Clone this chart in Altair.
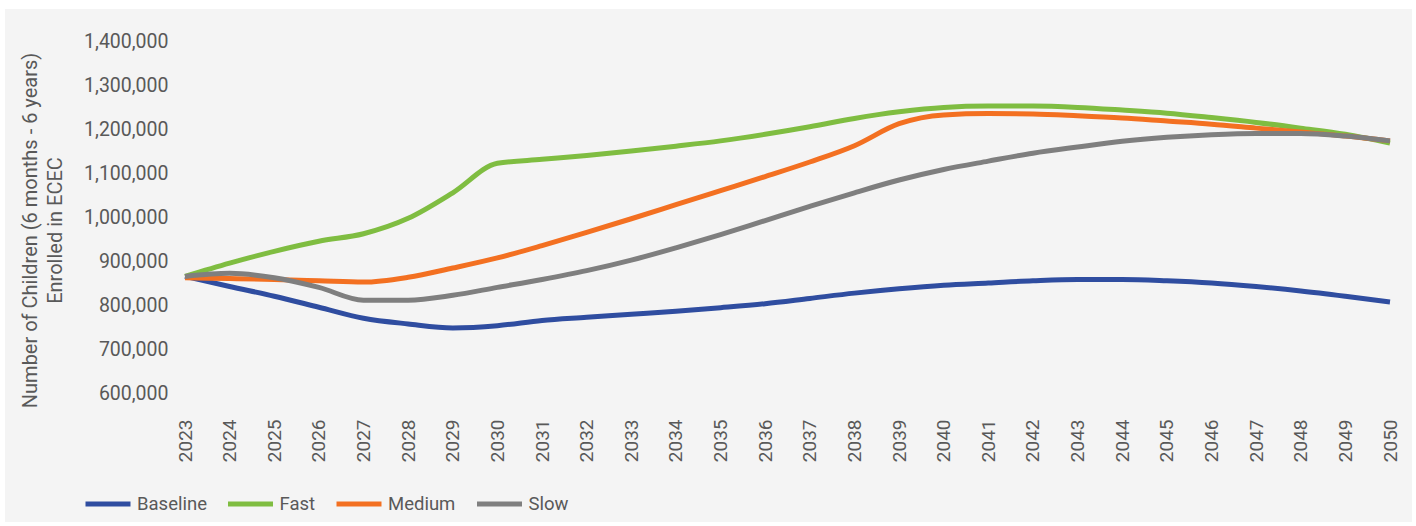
import altair as alt
import pandas as pd

years = list(range(2023, 2051))
scenarios = ["Baseline", "Fast", "Medium", "Slow"]
colors = ["#2F4DA0", "#7FBD41", "#F37021", "#7F7F7F"]

baseline = [865, 842, 820, 795, 770, 757, 748, 753, 765, 772, 779, 786, 794, 803,
            815, 827, 837, 845, 850, 855, 858, 858, 855, 850, 842, 832, 820, 807]
fast = [865, 895, 922, 945, 962, 997, 1055, 1122, 1131, 1140, 1150, 1161, 1173, 1188,
        1205, 1224, 1239, 1249, 1252, 1252, 1249, 1243, 1236, 1226, 1215, 1202, 1188, 1168]
medium = [862, 860, 858, 855, 852, 863, 884, 907, 935, 965, 996, 1028, 1060, 1092,
          1125, 1162, 1212, 1232, 1235, 1234, 1230, 1225, 1218, 1211, 1202, 1193, 1184, 1173]
slow = [865, 872, 862, 840, 811, 811, 822, 840, 858, 878, 902, 930, 960, 992,
        1024, 1055, 1084, 1108, 1127, 1145, 1159, 1172, 1181, 1187, 1190, 1190, 1184, 1173]

y_ticks = [600000, 700000, 800000, 900000, 1000000, 1100000, 1200000, 1300000, 1400000]

rows = []
for name, series in zip(scenarios, [baseline, fast, medium, slow]):
    for yr, v in zip(years, series):
        rows.append({"Year": yr, "Value": v * 1000, "Scenario": name})
df = pd.DataFrame(rows)

TXT = "#595959"

bg = alt.Chart(alt.Data(values=[{"a": 1}])).mark_rect(color="#f4f4f4", clip=False).encode(
    x=alt.value(-180), x2=alt.value(1227), y=alt.value(-32), y2=alt.value(481)
)

lines = alt.Chart(df).mark_line(strokeWidth=5, interpolate="monotone").encode(
    x=alt.X("Year:Q",
            scale=alt.Scale(domain=[2023, 2050], nice=False, zero=False),
            axis=alt.Axis(values=years, format="d", labelAngle=270, labelPadding=26,
                          ticks=False, domain=False, grid=False, title=None, zindex=1,
                          labelFontSize=19, labelColor=TXT, labelFont="Roboto")),
    y=alt.Y("Value:Q",
            scale=alt.Scale(domain=[600000, 1400000], nice=False, zero=False),
            axis=alt.Axis(values=y_ticks, format=",.0f", ticks=False, domain=False, grid=False,
                          zindex=1,
                          labelPadding=17, labelFontSize=19.5, labelColor=TXT, labelFont="Roboto",
                          title=["Number of Children (6 months - 6 years)", "Enrolled in ECEC"],
                          titleFontSize=20, titleFontWeight="normal", titleColor=TXT,
                          titleFont="Roboto", titlePadding=18, titleLineHeight=25,
                          titleY=189)),
    color=alt.Color("Scenario:N",
                    scale=alt.Scale(domain=scenarios, range=colors),
                    legend=alt.Legend(orient="none", legendX=-102, legendY=438,
                                      direction="horizontal", title=None, zindex=1,
                                      symbolType="stroke", symbolStrokeWidth=5,
                                      symbolSize=2025, labelFontSize=18.5, labelColor=TXT,
                                      labelFont="Roboto", labelOffset=4, columnPadding=10.5)),
)

chart = alt.layer(bg, lines).properties(
    width=1205, height=352,
    autosize=alt.AutoSizeParams(type="none"),
    padding={"left": 185, "top": 41, "right": 26, "bottom": 133},
    background="white",
).configure_view(stroke=None)

chart.save("out.html", embed_options={"renderer": "svg", "actions": False})
